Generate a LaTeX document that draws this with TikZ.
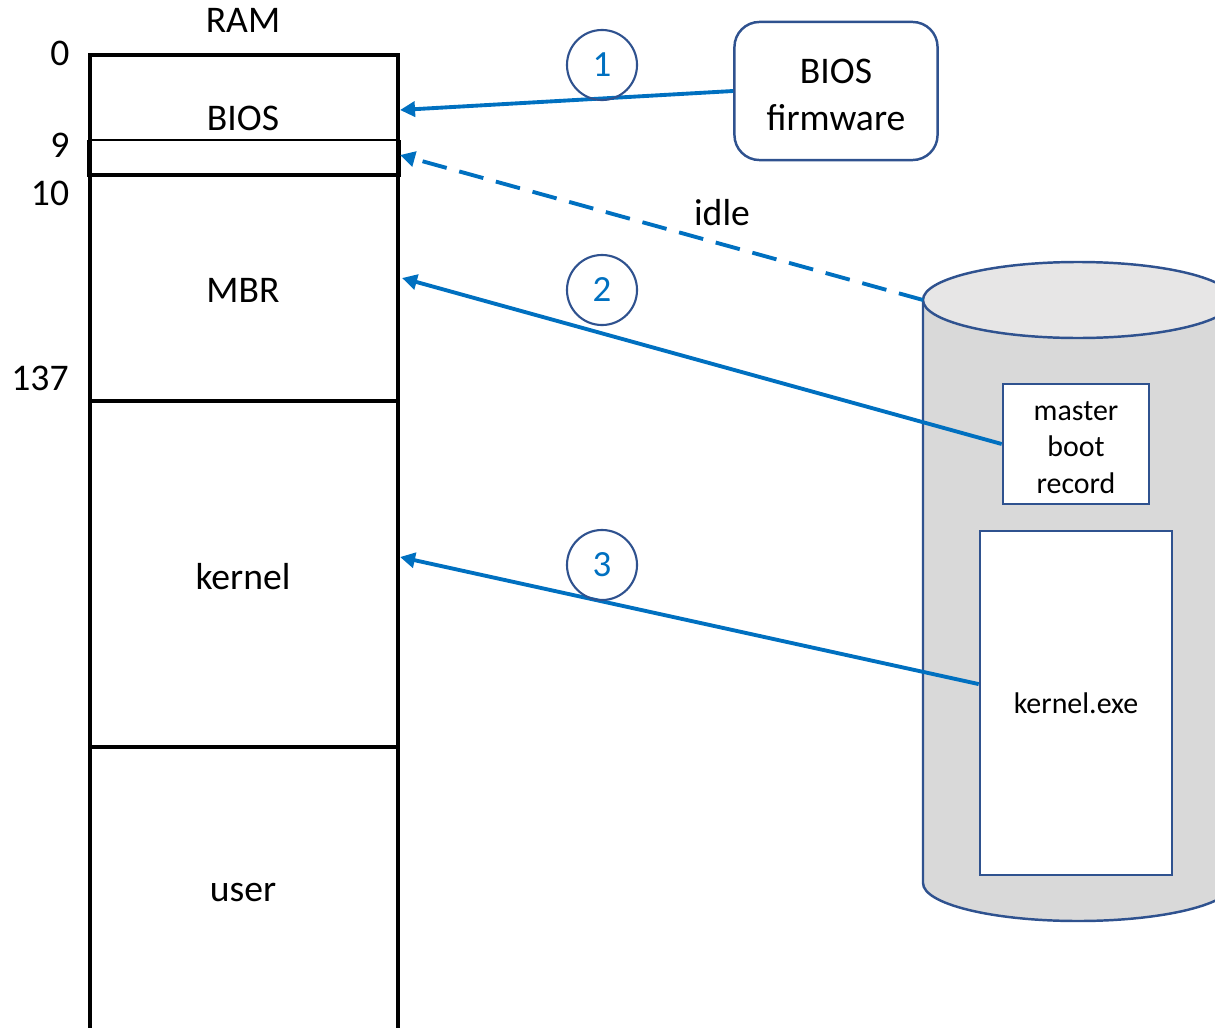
\documentclass[tikz,border=0pt]{standalone}
\usepackage{fontspec}
\setmainfont{Carlito}
\usetikzlibrary{arrows.meta}

\definecolor{lineblue}{HTML}{0070C0}
\definecolor{edgeblue}{HTML}{2F528F}
\definecolor{diskbody}{HTML}{D9D9D9}
\definecolor{disktop}{HTML}{E7E6E6}

\tikzset{
    ramline/.style={line width=1.4pt},
    txt/.style={font=\fontsize{10.7pt}{13.2pt}\selectfont, align=center},
    smalltxt/.style={font=\fontsize{8.5pt}{10.4pt}\selectfont, align=center},
    stepnum/.style={circle, draw=edgeblue, line width=0.6pt, minimum size=0.7cm, inner sep=0pt,
        text=lineblue, font=\fontsize{10.5pt}{11pt}\selectfont},
    loadarrow/.style={draw=lineblue, line width=1.1pt, -{Triangle[length=1.5mm, width=1.5mm]}},
    diskbox/.style={draw=edgeblue, line width=0.7pt, fill=white, inner sep=0pt}
}

\begin{document}
\begin{tikzpicture}[x=0.01cm, y=-0.01cm]
    \useasboundingbox (0,0) rectangle (1215,1027);
    \clip (0,0) rectangle (1215,1027);

    % RAM column
    \draw[ramline] (90,1040) -- (90,55) -- (398,55) -- (398,1040);
    \draw[line width=0.6pt] (90,140) -- (398,140);
    \draw[ramline] (89,140) -- (89,175) -- (399,175) -- (399,140);
    \draw[ramline] (90,401) -- (398,401);
    \draw[ramline] (90,747) -- (398,747);

    \node[txt] (ram) at (243,20) {RAM};
    \node[txt] (bios) at (243,118) {BIOS};
    \node[txt] (mbr) at (243,290) {MBR};
    \node[txt] (kernel) at (243,577) {kernel};
    \node[txt] (user) at (243,892) {user};

    \node[txt] (a0) at (60,53) {0};
    \node[txt] (a9) at (60,145) {9};
    \node[txt] (a10) at (50,193) {10};
    \node[txt] (a137) at (40,378) {137};

    \coordinate (tipbios) at (400,110);
    \coordinate (tipidle) at (400,155);
    \coordinate (tipmbr) at (402,278);
    \coordinate (tipkernel) at (400,557);

    % firmware
    \node[txt, draw=edgeblue, line width=0.7pt, rounded corners=0.25cm,
        minimum width=2.03cm, minimum height=1.38cm] (fw) at (836,91) {\strut BIOS\\firmware};

    % disk
    \fill[diskbody] (923,300) -- (923,883) arc[start angle=180, end angle=0, x radius=155, y radius=38]
        -- (1233,300) -- cycle;
    \draw[edgeblue, line width=0.7pt] (923,300) -- (923,883) arc[start angle=180, end angle=0, x radius=155, y radius=38]
        -- (1233,300);
    \draw[edgeblue, line width=0.7pt, fill=disktop] (1078,300) ellipse[x radius=155, y radius=38];
    \coordinate (disktopleft) at (923,300);

    \node[smalltxt, diskbox, minimum width=1.46cm, minimum height=1.2cm] (mbrrec) at (1076,444) {\strut master\\boot\\record};
    \node[smalltxt, diskbox, minimum width=1.92cm, minimum height=3.44cm] (kexe) at (1076,703) {kernel.exe};

    % loads
    \draw[loadarrow] (fw.west) -- (tipbios);
    \draw[loadarrow, dash pattern=on 2.5mm off 1.3mm] (disktopleft) -- (tipidle);
    \draw[loadarrow] (mbrrec.west) -- (tipmbr);
    \draw[loadarrow] (kexe.169) -- (tipkernel);

    \node[txt] (idle) at (722,213) {idle};
    \node[stepnum] (s1) at (602,65) {1};
    \node[stepnum] (s2) at (602,290) {2};
    \node[stepnum] (s3) at (602,565) {3};
\end{tikzpicture}
\end{document}
